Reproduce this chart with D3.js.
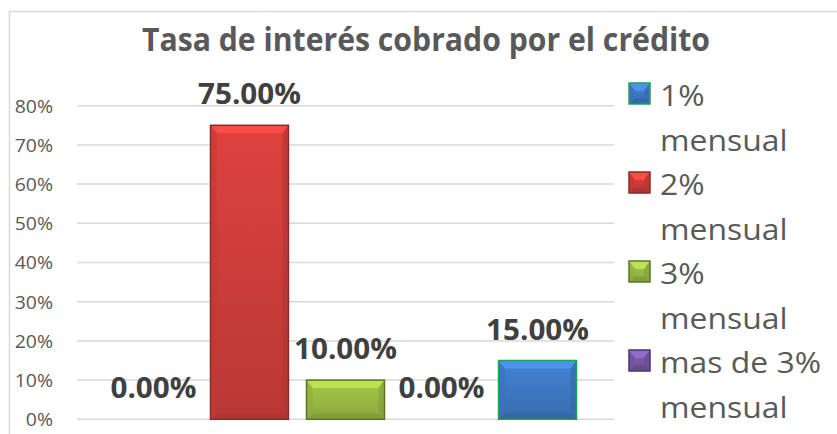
<!DOCTYPE html>
<html><head><meta charset="utf-8">
<script src="https://cdn.jsdelivr.net/npm/d3@7"></script>
<style>body{margin:0;background:#fff}svg{display:block}</style>
</head><body>
<svg id="c" width="837" height="434"></svg>
<script>
const title = "Tasa de interés cobrado por el crédito";
const barKeys = ["b1","b2","b3","b4","b5"];
const barSeries = ["1% mensual","2% mensual","3% mensual","mas de 3% mensual","1% mensual"];
const barValues = [0.00, 0.75, 0.10, 0.00, 0.15];
const legendNames = ["1% mensual","2% mensual","3% mensual","mas de 3% mensual"];
const legendColors = ["#3F7CC8","#D23F3C","#9DBE45","#7A5BAA"];
const yTicks = [0,0.1,0.2,0.3,0.4,0.5,0.6,0.7,0.8];

const colorOf = {}; legendNames.forEach((n,i)=>colorOf[n]=legendColors[i]);
const strokeOf = {"1% mensual":"#1EA552","2% mensual":"#8E2A27","3% mensual":"#5E7525","mas de 3% mensual":"#4A3570"};

const FONT = "'Open Sans', sans-serif";
const svg = d3.select("#c");
svg.append("rect").attr("x",9.5).attr("y",11.5).attr("width",840).attr("height",440)
  .attr("fill","#fff").attr("stroke","#d9d9d9").attr("stroke-width",1.5);

function squeeze(sel, ratio){
  const w = sel.node().getComputedTextLength();
  sel.attr("textLength", w*ratio).attr("lengthAdjust","spacingAndGlyphs");
}

const t = svg.append("text").attr("x",142).attr("y",50.7).attr("font-family",FONT)
  .attr("font-weight",700).attr("font-size",32).attr("fill","#595959").text(title);
t.attr("textLength",568).attr("lengthAdjust","spacingAndGlyphs");

const x = d3.scaleBand().domain(barKeys).range([77,614]).paddingInner(0.1875).paddingOuter(0.39);
const y = d3.scaleLinear().domain([0,0.8]).range([419.3,105.7]);

const grid = svg.append("g");
grid.selectAll("line").data(yTicks).join("line")
  .attr("x1",77).attr("x2",614).attr("y1",d=>y(d)).attr("y2",d=>y(d))
  .attr("stroke","#d9d9d9").attr("stroke-width",1.5);

const yAxis = d3.axisLeft(y).tickValues(yTicks).tickFormat(d3.format(".0%")).tickSize(0).tickPadding(0);
const ya = svg.append("g").attr("transform","translate(53,0)").call(yAxis);
ya.select(".domain").remove();
ya.selectAll("text").attr("font-family",FONT).attr("font-size",18).attr("fill","#595959").attr("dy","0.36em")
  .each(function(){ squeeze(d3.select(this), 1.08); });

const defs = svg.append("defs");
legendNames.forEach((k,i)=>{
  const c = colorOf[k];
  const g = defs.append("linearGradient").attr("id","g"+i).attr("x1",0).attr("x2",0).attr("y1",0).attr("y2",1);
  g.append("stop").attr("offset","0%").attr("stop-color",d3.color(c).brighter(0.15));
  g.append("stop").attr("offset","100%").attr("stop-color",d3.color(c).darker(0.35));
});
const gradOf = k => "url(#g"+legendNames.indexOf(k)+")";

function bevelBar(g, x0, y0, w, h, series){
  const c = colorOf[series];
  g.append("rect").attr("x",x0).attr("y",y0).attr("width",w).attr("height",h).attr("fill",gradOf(series));
  const b = Math.min(8, h/2.5), bs = Math.min(6,h/3);
  g.append("path").attr("d",`M${x0},${y0}L${x0+w},${y0}L${x0+w-bs},${y0+b}L${x0+bs},${y0+b}Z`)
    .attr("fill",d3.color(c).brighter(0.55)).attr("opacity",0.85);
  g.append("path").attr("d",`M${x0},${y0+h}L${x0+w},${y0+h}L${x0+w-bs},${y0+h-b*0.7}L${x0+bs},${y0+h-b*0.7}Z`)
    .attr("fill",d3.color(c).darker(0.6)).attr("opacity",0.7);
  g.append("path").attr("d",`M${x0},${y0}L${x0+bs},${y0+b}L${x0+bs},${y0+h-b*0.7}L${x0},${y0+h}Z`)
    .attr("fill",d3.color(c).darker(0.25)).attr("opacity",0.6);
  g.append("path").attr("d",`M${x0+w},${y0}L${x0+w-bs},${y0+b}L${x0+w-bs},${y0+h-b*0.7}L${x0+w},${y0+h}Z`)
    .attr("fill",d3.color(c).darker(0.5)).attr("opacity",0.6);
  g.append("rect").attr("x",x0).attr("y",y0).attr("width",w).attr("height",h)
    .attr("fill","none").attr("stroke",strokeOf[series]).attr("stroke-width",1.5);
}

const bars = svg.append("g");
barKeys.forEach((k,i)=>{
  const v = barValues[i];
  if (v > 0) bevelBar(bars.append("g"), x(k), y(v), x.bandwidth(), y(0)-y(v), barSeries[i]);
});

const lbl = svg.append("g");
barKeys.forEach((k,i)=>{
  const v = barValues[i];
  const by = Math.min(y(v)-21, y(0)-9);
  const tt = lbl.append("text").attr("x",x(k)+x.bandwidth()/2).attr("y",by).attr("text-anchor","middle")
    .attr("font-family",FONT).attr("font-weight",700).attr("font-size",28.5).attr("fill","#404040")
    .text(d3.format(".2%")(v));
  squeeze(tt, 1.04);
});

const lg = svg.append("g");
const lineH = 44.5, base0 = 106;
legendNames.forEach((n,i)=>{
  const parts = [n.slice(0, n.lastIndexOf(" ")), n.slice(n.lastIndexOf(" ")+1)];
  const by = base0 + i*2*lineH;
  bevelBar(lg.append("g"), 629, by-23, 21, 21, n);
  parts.forEach((p,j)=>{
    const tx = lg.append("text").attr("x",660).attr("y",by + j*lineH).attr("font-family",FONT)
      .attr("font-size",29).attr("fill","#595959").text(p);
    squeeze(tx, 1.1);
  });
});
</script>
</body></html>
